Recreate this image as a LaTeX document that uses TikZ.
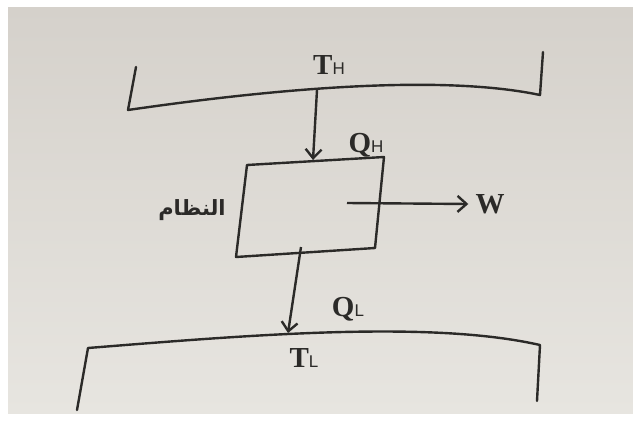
\documentclass[tikz,border=0pt]{standalone}
\usepackage{fontspec}
\setmainfont{Liberation Serif}
\newfontfamily\labsans{Liberation Sans}
\newfontfamily\arabicfont[Script=Arabic]{DejaVu Sans}
\TeXXeTstate=1
\usetikzlibrary{arrows.meta}
\definecolor{ink}{HTML}{2B2A28}
\definecolor{pagetop}{HTML}{D5D1CB}
\definecolor{pagebot}{HTML}{E7E5E0}
\newcommand{\smallsub}[1]{\textmd{\labsans\fontsize{17}{19}\selectfont #1}}
\tikzset{
  wall/.style={draw=ink,line width=2.4pt,line join=round,line cap=round},
  flow/.style={draw=ink,line width=2.4pt,-{Straight Barb[length=9pt,width=16pt,line width=2.4pt]}},
  lab/.style={text=ink,inner sep=0pt,font=\fontsize{29}{32}\selectfont\bfseries},
}
\begin{document}
\begin{tikzpicture}[x=1pt,y=-1pt]
\useasboundingbox (0,0) rectangle (633,426);
\fill[white] (0,0) rectangle (633,426);
\shade[top color=pagetop,bottom color=pagebot] (8,7) rectangle (633,413);
% hot reservoir
\coordinate (htl) at (136,67);
\coordinate (hbl) at (128,110);
\coordinate (hbr) at (540,95);
\coordinate (htr) at (543,52);
\coordinate (hout) at (317,90);
\draw[wall] (htl) -- (hbl) .. controls (300,85) and (450,76) .. (hbr) -- (htr);
\node[lab] (TH) at (329,65) {T\smallsub{H}};
% system box
\coordinate (b1) at (247,165);
\coordinate (b2) at (384,157);
\coordinate (b3) at (375,248);
\coordinate (b4) at (236,257);
\draw[wall] (b1) -- (b2) -- (b3) -- (b4) -- cycle;
\coordinate (bin) at (313,160);
\draw[flow] (hout) -- (bin);
\node[lab] (QH) at (366,145) {Q\smallsub{H}};
\node[text=ink,font=\arabicfont\bfseries\fontsize{21}{24}\selectfont] (sys) at (192,210) {\beginR النظام\endR};
% work
\coordinate (wst) at (347,203);
\node[lab] (W) at (490,204) {W};
\draw[flow] (wst) -- ([xshift=-7pt]W.west);
% cold reservoir
\coordinate (lbl) at (77,410);
\coordinate (ltl) at (88,348);
\coordinate (ltr) at (540,345);
\coordinate (lbr) at (537,401);
\coordinate (lin) at (288,333);
\coordinate (bout) at (301,247);
\draw[wall] (lbl) -- (ltl) .. controls (250,335) and (430,320) .. (ltr) -- (lbr);
\draw[flow] (bout) -- (lin);
\node[lab] (QL) at (348,309) {Q\smallsub{L}};
\node[lab] (TL) at (304,358) {T\smallsub{L}};
\end{tikzpicture}
\end{document}
